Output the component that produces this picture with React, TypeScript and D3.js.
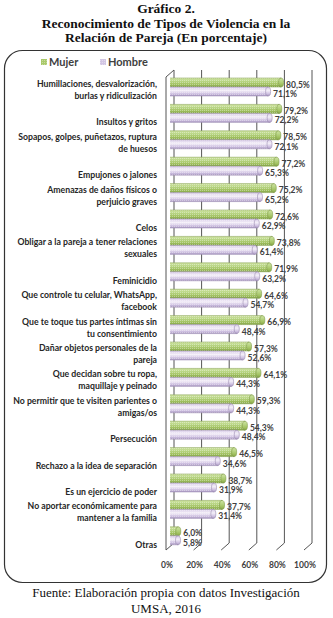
import React from "react";
import * as d3 from "d3";

const categories: string[][] = [
  ["Humillaciones, desvalorización,", "burlas y ridiculización"],
  ["Insultos y gritos"],
  ["Sopapos, golpes, puñetazos, ruptura", "de huesos"],
  ["Empujones o jalones"],
  ["Amenazas de daños físicos o", "perjuicio graves"],
  ["Celos"],
  ["Obligar a la pareja a tener relaciones", "sexuales"],
  ["Feminicidio"],
  ["Que controle tu celular, WhatsApp,", "facebook"],
  ["Que te toque tus partes íntimas sin", "tu consentimiento"],
  ["Dañar objetos personales de la", "pareja"],
  ["Que decidan sobre tu ropa,", "maquillaje y peinado"],
  ["No permitir que te visiten parientes o", "amigas/os"],
  ["Persecución"],
  ["Rechazo a la idea de separación"],
  ["Es un ejercicio de poder"],
  ["No aportar económicamente para", "mantener a la familia"],
  ["Otras"],
];
const mujer = [80.5, 79.2, 78.5, 77.2, 75.2, 72.6, 73.8, 71.9, 64.6, 66.9, 57.3, 64.1, 59.3, 54.3, 46.5, 38.7, 37.7, 6.0];
const hombre = [71.1, 72.2, 72.1, 65.3, 65.2, 62.9, 61.4, 63.2, 54.7, 48.4, 52.6, 44.3, 44.3, 48.4, 34.6, 31.9, 31.4, 5.8];
const ticks = [0, 20, 40, 60, 80, 100];
const seriesNames = ["Mujer", "Hombre"];

const W = 333;
const H = 618;
const DX = 8;
const DY = 7;

export default function App() {
  const ids = categories.map((_, i) => String(i));
  const y = d3.scaleBand<string>().domain(ids).range([72, 72 + 18 * 26.4]).padding(0);
  const xFront = d3.scaleLinear().domain([0, 100]).range([166, 304]);
  const xBar = (v: number) => xFront(v) + DX / 2;
  const floorY = 550;
  const topY = 70;
  const fmt = (v: number) => d3.format(".1f")(v).replace(".", ",") + "%";

  const labelFont = "Lato, 'Open Sans', sans-serif";
  const textColor = "#262626";
  const bars: { v: number; yTop: number; s: number }[] = [];
  ids.forEach((id, i) => {
    const b = y(id)!;
    bars.push({ v: mujer[i], yTop: b + 6, s: 0 });
    bars.push({ v: hombre[i], yTop: b + 15, s: 1 });
  });
  const bh = 9;

  return (
    <svg width={W} height={H} style={{ position: "absolute", left: 0, top: 0, background: "#fff" }}>
      <defs>
        <linearGradient id="gM" x1="0" y1="0" x2="0" y2="1">
          <stop offset="0" stopColor="#cfe3a0" />
          <stop offset="0.3" stopColor="#bcd88a" />
          <stop offset="0.7" stopColor="#a2c262" />
          <stop offset="1" stopColor="#84a447" />
        </linearGradient>
        <linearGradient id="gH" x1="0" y1="0" x2="0" y2="1">
          <stop offset="0" stopColor="#d9cde8" />
          <stop offset="0.4" stopColor="#f3eef8" />
          <stop offset="0.75" stopColor="#d0c2e2" />
          <stop offset="1" stopColor="#a897c0" />
        </linearGradient>
        <pattern id="dots" width="2" height="2" patternUnits="userSpaceOnUse">
          <rect x="0" y="0" width="1" height="1" fill="#ffffff" opacity="0.35" />
        </pattern>
      </defs>

      {/* Title */}
      <g fontFamily="'Liberation Serif', 'Times New Roman', serif" fontWeight="bold" fontSize="13.5" textAnchor="middle" fill="#111">
        <text x={166} y={12.5}>Gráfico 2.</text>
        <text x={166} y={27.5}>Reconocimiento de Tipos de Violencia en la</text>
        <text x={166} y={42}>Relación de Pareja (En porcentaje)</text>
      </g>

      {/* Frame */}
      <rect x={4.5} y={50.5} width={322} height={532} rx={18} ry={18} fill="none" stroke="#333" strokeWidth={1.2} />

      {/* Legend */}
      <g fontFamily={labelFont} fontWeight="bold" fontSize="11" fill="#404040">
        {seriesNames.map((n, k) => {
          const lx = k === 0 ? 41 : 100;
          return (
            <g key={n}>
              <rect x={lx} y={59} width={6} height={6} fill={k === 0 ? "#a9c96a" : "#d2c6e4"} />
              <rect x={lx} y={59} width={6} height={6} fill="url(#dots)" />
              <text x={lx + 8} y={66}>{n}</text>
            </g>
          );
        })}
      </g>

      {/* Gridlines (back wall + floor slants) */}
      <g stroke="#555" strokeWidth={1} fill="none">
        {ticks.map((t) => {
          const xb = xFront(t) + DX;
          const xf = xFront(t);
          return (
            <path key={t} d={`M${xb},${topY} L${xb},${floorY - DY} L${xf},${floorY}`} />
          );
        })}
        <path d={`M${xFront(0)},${floorY} L${xFront(0)},${topY + DY} L${xFront(0) + DX},${topY}`} />
      </g>

      {/* Bars */}
      <g>
        {bars.map((b, i) => {
          const x0 = xBar(0);
          const x1 = xBar(b.v);
          const fill = b.s === 0 ? "url(#gM)" : "url(#gH)";
          const stroke = b.s === 0 ? "#7f9a4a" : "#9a8bb0";
          return (
            <g key={i}>
              <rect x={x0} y={b.yTop} width={Math.max(0, x1 - x0)} height={bh} fill={fill} />
              <rect x={x0} y={b.yTop} width={Math.max(0, x1 - x0)} height={bh} fill="url(#dots)" />
              <ellipse cx={x1} cy={b.yTop + bh / 2} rx={2.5} ry={bh / 2} fill={fill} stroke={stroke} strokeWidth={0.6} />
              <path d={`M${x0},${b.yTop} L${x1},${b.yTop} M${x0},${b.yTop + bh} L${x1},${b.yTop + bh}`} stroke={stroke} strokeWidth={0.5} />
            </g>
          );
        })}
      </g>

      {/* Data labels */}
      <g fontFamily={labelFont} fontWeight="bold" fontSize="8.5" fill="#404040">
        {ids.map((id, i) => {
          const b = y(id)!;
          return (
            <g key={id}>
              <text x={xBar(mujer[i]) + 5} y={b + 12.5 + 3}>{fmt(mujer[i])}</text>
              <text x={xBar(hombre[i]) + 5} y={b + 22 + 3}>{fmt(hombre[i])}</text>
            </g>
          );
        })}
      </g>

      {/* Category labels */}
      <g fontFamily={labelFont} fontWeight="bold" fontSize="8.7" fill={textColor} textAnchor="end">
        {ids.map((id, i) => {
          const b = y(id)!;
          const lines = categories[i];
          const ys = lines.length === 2 ? [b + 12, b + 24] : [b + 24];
          return lines.map((l, j) => (
            <text key={id + "-" + j} x={157} y={ys[j] + 3}>{l}</text>
          ));
        })}
      </g>

      {/* X axis ticks */}
      <g fontFamily={labelFont} fontWeight="bold" fontSize="8.5" fill="#404040" textAnchor="middle">
        {ticks.map((t) => (
          <text key={t} x={xFront(t) + 1} y={568}>{t}%</text>
        ))}
      </g>

      {/* Footer */}
      <g fontFamily="'Liberation Serif', 'Times New Roman', serif" fontSize="13" textAnchor="middle" fill="#111">
        <text x={166} y={597}>Fuente: Elaboración propia con datos Investigación</text>
        <text x={166} y={613}>UMSA, 2016</text>
      </g>
    </svg>
  );
}
